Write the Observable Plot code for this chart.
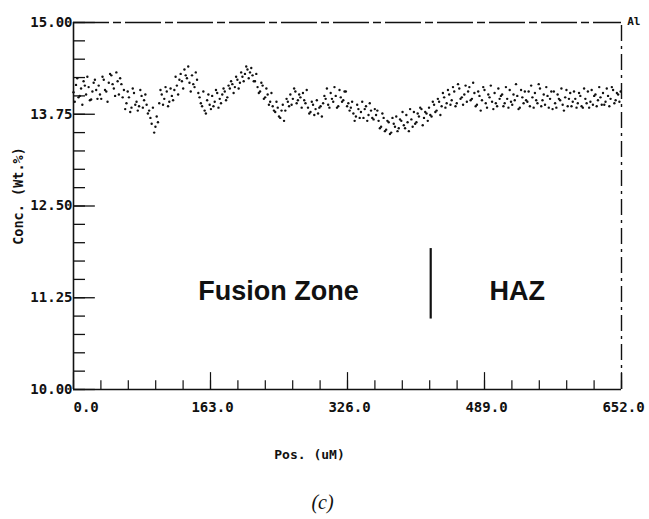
<!DOCTYPE html>
<html>
<head>
<meta charset="utf-8">
<script src="https://cdn.jsdelivr.net/npm/d3@7"></script>
<script src="https://cdn.jsdelivr.net/npm/@observablehq/plot@0.6"></script>
<style>
  html, body { margin: 0; padding: 0; background: #fff; }
  #chart { width: 649px; height: 519px; }
</style>
</head>
<body>
<div id="chart"></div>
<script>
// Al concentration (Wt.%).
// Series A: samples at 0, 3, 6 ... uM; series B: samples at 1.5, 4.5, 7.5 ... uM
const posStep = 3;
const concValuesA = [
  14.05, 14.15, 13.98, 14.10, 14.20, 14.02, 14.12, 13.95, 14.18, 14.08,
  14.14, 13.96, 14.22, 14.06, 14.18, 14.28, 14.10, 14.32, 14.02, 14.16,
  14.08, 13.90, 13.98, 13.84, 14.04, 13.92, 13.86, 14.00, 13.94, 13.88,
  13.80, 13.62, 13.50, 13.72, 13.90, 14.02, 13.96, 14.06, 13.92, 14.00,
  14.08, 14.14, 14.22, 14.20, 14.36, 14.24, 14.18, 14.28, 14.12, 14.22,
  13.98, 13.86, 13.80, 13.94, 13.88, 14.00, 13.92, 14.04, 13.96, 14.02,
  14.06, 13.98, 14.10, 14.16, 14.12, 14.22, 14.18, 14.26, 14.30, 14.36,
  14.32, 14.28, 14.20, 14.12, 14.06, 14.14, 13.98, 14.02, 13.92, 13.86,
  13.78, 13.84, 13.70, 13.88, 13.80, 13.92, 14.02, 13.96, 14.06, 13.94,
  13.98, 14.04, 13.90, 13.84, 13.78, 13.88, 13.82, 13.76, 13.86, 13.90,
  13.96, 13.88, 14.04, 13.92, 14.00, 13.86, 13.98, 13.94, 14.06, 13.90,
  13.84, 13.76, 13.72, 13.82, 13.78, 13.70, 13.86, 13.74, 13.80, 13.68,
  13.74, 13.66, 13.58, 13.70, 13.54, 13.64, 13.50, 13.62, 13.72, 13.56,
  13.66, 13.60, 13.74, 13.52, 13.68, 13.78, 13.64, 13.72, 13.82, 13.70,
  13.76, 13.84, 13.72, 13.88, 13.80, 13.92, 13.86, 13.98, 13.90, 14.02,
  13.94, 14.06, 13.90, 14.10, 13.98, 14.02, 13.92, 14.12, 13.96, 14.04,
  13.88, 14.00, 13.94, 14.08, 13.84, 13.98, 13.92, 14.04, 13.86, 13.96,
  14.02, 13.90, 13.96, 14.08, 13.88, 13.94, 14.00, 13.84, 13.98, 14.06,
  13.92, 13.86, 13.98, 14.04, 13.90, 14.10, 13.94, 13.88, 14.00, 13.96,
  13.82, 13.90, 14.02, 13.94, 13.88, 13.98, 13.86, 14.04, 13.92, 13.96,
  13.90, 14.00, 13.84, 13.96, 14.06, 13.92, 13.88, 14.02, 13.94, 13.98,
  14.04, 13.92, 14.00, 13.96, 14.08, 13.94, 14.02, 14.06
];
const concValuesB = [
  13.92, 14.24, 14.00, 13.88, 14.14, 14.26, 13.94, 14.06, 14.22, 13.96,
  14.02, 14.26, 14.08, 13.92, 14.30, 14.16, 14.00, 14.20, 14.24, 13.98,
  13.82, 14.06, 13.78, 14.10, 13.88, 13.80, 14.08, 13.84, 14.02, 13.76,
  13.70, 13.84, 13.58, 13.64, 14.08, 13.88, 14.12, 13.86, 14.10, 13.94,
  14.26, 14.02, 14.30, 14.10, 14.28, 14.40, 14.06, 14.16, 14.32, 14.04,
  13.90, 14.06, 13.76, 14.02, 13.82, 13.86, 14.08, 13.84, 13.90, 14.10,
  13.94, 14.14, 14.20, 14.04, 14.26, 14.10, 14.32, 14.20, 14.40, 14.24,
  14.38, 14.20, 14.30, 14.04, 14.18, 13.96, 14.10, 13.88, 14.04, 13.80,
  13.92, 13.72, 13.80, 13.66, 13.96, 13.86, 13.88, 14.10, 13.90, 14.02,
  13.84, 13.94, 14.08, 13.76, 13.92, 13.74, 13.94, 13.84, 13.72, 14.00,
  14.10, 13.84, 13.96, 14.12, 13.84, 14.08, 13.92, 14.06, 13.86, 13.80,
  13.92, 13.66, 13.88, 13.70, 13.92, 13.82, 13.66, 13.90, 13.70, 13.82,
  13.80, 13.56, 13.76, 13.52, 13.66, 13.48, 13.70, 13.58, 13.52, 13.68,
  13.78, 13.56, 13.64, 13.82, 13.58, 13.62, 13.76, 13.84, 13.60, 13.78,
  13.66, 13.74, 13.92, 13.78, 13.96, 13.74, 14.04, 13.84, 14.08, 13.88,
  14.12, 13.86, 14.16, 13.96, 13.88, 14.14, 14.06, 13.94, 14.18, 13.86,
  14.06, 13.80, 14.12, 13.90, 14.02, 14.14, 13.82, 13.90, 14.10, 14.00,
  13.86, 14.12, 13.84, 13.92, 14.02, 14.16, 13.82, 14.08, 13.90, 13.94,
  14.06, 14.14, 13.84, 13.94, 14.16, 13.86, 14.02, 14.12, 13.84, 14.06,
  14.06, 13.84, 13.96, 14.10, 13.80, 14.08, 13.96, 13.86, 14.06, 13.84,
  14.04, 13.86, 14.10, 13.90, 13.84, 14.08, 14.00, 13.86, 14.12, 13.88,
  13.88, 14.10, 13.86, 14.12, 13.90, 14.04, 13.92
];

const xTickLabels = [0, 163, 326, 489, 652];
const xMinorTicks = [0, 32.6, 65.2, 97.8, 130.4, 163, 195.6, 228.2, 260.8, 293.4, 326,
                     358.6, 391.2, 423.8, 456.4, 489, 521.6, 554.2, 586.8, 619.4, 652];
const yTickLabels = [10, 11.25, 12.5, 13.75, 15];
const yMinorTicks = [10, 10.25, 10.5, 10.75, 11, 11.25, 11.5, 11.75, 12, 12.25, 12.5,
                     12.75, 13, 13.25, 13.5, 13.75, 14, 14.25, 14.5, 14.75, 15];
const boundaryPos = 425;           // fusion zone / HAZ boundary (uM)
const regionLabels = ["Fusion Zone", "HAZ"];
const regionCenters = [244, 528];

const data = [
  ...concValuesA.map((c, i) => ({pos: i * posStep, conc: c})),
  ...concValuesB.map((c, i) => ({pos: i * posStep + posStep / 2, conc: c}))
];
const ink = "#111";
const mono = "DejaVu Sans Mono";

const chart = Plot.plot({
  width: 649,
  height: 519,
  marginLeft: 73,
  marginRight: 28,
  marginTop: 22,
  marginBottom: 130,
  x: {domain: [0, 652], axis: null},
  y: {domain: [10, 15], axis: null},
  style: {background: "#fff", color: ink, fontFamily: mono},
  marks: [
    // frame
    Plot.ruleX([0], {y1: 10, y2: 15, stroke: ink, strokeWidth: 1.6}),
    Plot.ruleY([10], {x1: 0, x2: 652, stroke: ink, strokeWidth: 1.6}),
    Plot.ruleY([15], {x1: 0, x2: 652, stroke: ink, strokeWidth: 1.6, strokeDasharray: "36,4,8,4"}),
    Plot.ruleX([652], {y1: 10, y2: 15, stroke: ink, strokeWidth: 1.4, strokeDasharray: "16,5,3,5"}),
    // x ticks (inward)
    Plot.ruleX(xMinorTicks, {y1: 10, y2: 10.12, stroke: ink, strokeWidth: 1.2}),
    Plot.ruleX(xTickLabels, {y1: 10, y2: 10.23, stroke: ink, strokeWidth: 1.2}),
    // y ticks (inward)
    Plot.ruleY(yMinorTicks, {x1: 0, x2: 14.3, stroke: ink, strokeWidth: 1.3}),
    Plot.ruleY(yTickLabels, {x1: 0, x2: 26, stroke: ink, strokeWidth: 1.3}),
    // tick labels
    Plot.text(xTickLabels.slice(0, 1), {x: d => d, y: 10, dy: 18, text: d => d.toFixed(1),
      textAnchor: "start", fontSize: 14, fontWeight: "bold", fill: ink}),
    Plot.text(xTickLabels.slice(1), {x: d => d, y: 10, dy: 18, dx: 2, text: d => d.toFixed(1),
      textAnchor: "middle", fontSize: 14, fontWeight: "bold", fill: ink}),
    Plot.text(yTickLabels, {x: 0, y: d => d, dx: -1, text: d => d.toFixed(2),
      textAnchor: "end", fontSize: 14, fontWeight: "bold", fill: ink}),
    // data
    Plot.dot(data, {x: "pos", y: "conc", r: 1.2, fill: ink, stroke: null}),
    // region annotation
    Plot.ruleX([boundaryPos], {y1: 10.96, y2: 11.92, stroke: ink, strokeWidth: 2.2}),
    Plot.text(regionLabels, {x: (d, i) => regionCenters[i], y: 11.34, text: d => d,
      fontFamily: "Liberation Sans", fontWeight: "bold", fontSize: 27, fill: ink}),
    // axis titles and caption
    Plot.text(["Conc. (Wt.%)"], {frameAnchor: "left", textAnchor: "middle", dx: -55, dy: -10, rotate: -90,
      fontSize: 13.5, fontWeight: "bold", fill: ink}),
    Plot.text(["Pos. (uM)"], {frameAnchor: "bottom", textAnchor: "middle", dx: -38, dy: 69,
      fontSize: 13, fontWeight: "bold", fill: ink}),
    Plot.text(["Al"], {frameAnchor: "top-right", dx: 19, dy: -5,
      fontSize: 11, fontWeight: "bold", fill: ink}),
    Plot.text(["(c)"], {frameAnchor: "bottom", textAnchor: "middle", dx: -25, dy: 119,
      fontFamily: "Liberation Serif", fontStyle: "italic", fontSize: 20, fill: ink})
  ]
});
document.getElementById("chart").appendChild(chart);
</script>
</body>
</html>
